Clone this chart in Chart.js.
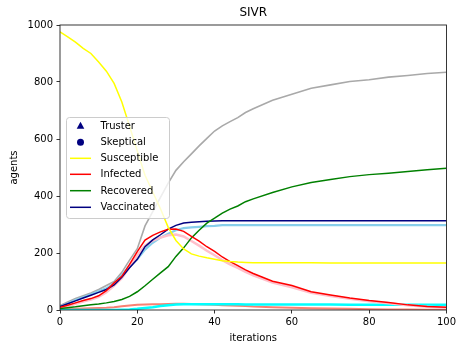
<!DOCTYPE html>
<html>
<head>
<meta charset="utf-8">
<script src="https://cdn.jsdelivr.net/npm/chart.js@4"></script>
<style>
html,body{margin:0;padding:0;background:#fff;}
#wrap{position:relative;width:459px;height:345px;}
</style>
</head>
<body>
<div id="wrap"><canvas id="c" width="459" height="345"></canvas></div>
<script>
const iterations = [0,2,4,6,8,10,12,14,16,18,20,22,24,26,28,30,32,34,36,38,40,42,44,46,48,50,55,60,65,70,75,80,85,90,95,100];
const susceptible = [976,958,940,918,900,870,838,795,730,645,558,473,414,355,290,244,214,197,189,183,178,173,170,168,167,166,166,166,166,165,165,165,165,165,165,165];
const infected = [10,17,25,33,40,50,68,95,118,160,205,245,262,274,283,284,276,258,242,222,206,186,170,156,141,128,101,86,64,53,42,33,26,18,12,10];
const recovered = [5,8,11,15,18,21,25,30,37,48,64,85,108,130,152,188,218,253,280,305,322,340,354,365,380,390,412,432,447,458,468,475,480,486,492,497];
const vaccinated = [12,22,32,42,52,62,72,88,115,148,178,222,246,264,284,297,305,308,310,311,312,313,313,313,313,313,313,313,313,313,313,313,313,313,313,313];
const grayLine = [15,28,40,50,60,72,86,100,132,175,215,295,345,395,445,490,520,548,576,602,628,646,661,675,693,706,736,757,778,790,802,808,817,823,830,834];
const lightBlueLine = [12,23,35,45,55,66,76,93,122,154,178,212,236,254,268,280,287,290,292,294,295,298,298,298,298,298,298,298,298,298,298,298,298,298,298,298];
const pinkLine = [8,14,22,30,37,46,62,86,112,152,192,226,244,254,262,265,258,242,226,208,192,175,160,148,134,122,96,80,60,49,39,31,24,17,11,8];
const cyanLine = [0,0,0,0,0,0,0,0,1,2,4,7,10,14,17,19,20,20,20,20,20,20,20,20,19,19,19,19,19,19,18,18,18,18,18,18];
const salmonLine = [2,3,4,5,6,7,8,10,13,16,18,19,20,20,21,22,22,21,20,19,18,17,16,15,14,12,10,8,6,5,4,3,2,2,1,1];
const xTicks = [0,20,40,60,80,100];
const yTicks = [0,200,400,600,800,1000];
const legendLabels = ["Truster","Skeptical","Susceptible","Infected","Recovered","Vaccinated"];

const FONT = "DejaVu Sans";
function pts(arr){ return iterations.map((x,i)=>({x:x,y:arr[i]})); }
function ds(arr,color,width,order){
  return {data:pts(arr),borderColor:color,borderWidth:width,pointRadius:0,tension:0,fill:false,order:order};
}

const framePlugin = {
  id:'frame',
  afterDraw(chart){
    const ctx = chart.ctx, a = chart.chartArea;
    ctx.save();
    ctx.strokeStyle = '#222'; ctx.lineWidth = 0.9;
    ctx.strokeRect(a.left, a.top, a.right-a.left, a.bottom-a.top);
    ctx.fillStyle = '#000';
    ctx.textAlign = 'center'; ctx.textBaseline = 'middle';
    ctx.font = '12px "' + FONT + '"';
    ctx.fillText('SIVR', (a.left+a.right)/2, 13);
    ctx.font = '10px "' + FONT + '"';
    ctx.fillText('iterations', (a.left+a.right)/2, 338);
    ctx.save();
    ctx.translate(14, (a.top+a.bottom)/2);
    ctx.rotate(-Math.PI/2);
    ctx.fillText('agents', 0, 0);
    ctx.restore();
    // legend
    const bx = 66, by = 117, bw = 103, bh = 101;
    ctx.fillStyle = 'rgba(255,255,255,0.8)';
    ctx.strokeStyle = '#cccccc'; ctx.lineWidth = 1;
    ctx.beginPath();
    ctx.roundRect(bx+0.5, by+0.5, bw, bh, 3);
    ctx.fill(); ctx.stroke();
    const rows = [125.7,142.3,158.3,174.3,190.7,207.3];
    const hx0 = 70, hx1 = 91, mx = 80.5, tx = 100.5;
    ctx.textAlign = 'left'; ctx.textBaseline = 'middle';
    ctx.font = '10px "' + FONT + '"';
    ctx.fillStyle = '#000080';
    ctx.beginPath();
    ctx.moveTo(mx, rows[0]-4); ctx.lineTo(mx+3.8, rows[0]+3); ctx.lineTo(mx-3.8, rows[0]+3); ctx.closePath(); ctx.fill();
    ctx.beginPath(); ctx.arc(mx, rows[1], 3.5, 0, Math.PI*2); ctx.fill();
    const lc = ['#ffff00','#ff0000','#008000','#000080'];
    for(let i=0;i<4;i++){
      ctx.strokeStyle = lc[i]; ctx.lineWidth = 1.5;
      ctx.beginPath(); ctx.moveTo(hx0, rows[i+2]); ctx.lineTo(hx1, rows[i+2]); ctx.stroke();
    }
    ctx.fillStyle = '#000';
    for(let i=0;i<legendLabels.length;i++){
      ctx.fillText(legendLabels[i], tx, rows[i]+0.5);
    }
    ctx.restore();
  }
};

new Chart(document.getElementById('c'), {
  type:'line',
  data:{
    datasets:[
      ds(susceptible,'#ffff00',1.5,1),
      ds(infected,'#ff0000',1.5,2),
      ds(recovered,'#008000',1.5,3),
      ds(vaccinated,'#000080',1.5,4),
      ds(pinkLine,'#ffc0cb',2.5,5),
      ds(lightBlueLine,'#87ceeb',2.2,6),
      ds(grayLine,'#a9a9a9',1.6,7),
      ds(cyanLine,'#00ffff',2.5,8),
      ds(salmonLine,'#fa8072',2,9)
    ]
  },
  options:{
    responsive:false,
    animation:false,
    devicePixelRatio:1,
    layout:{padding:{left:0,right:11,top:25,bottom:0}},
    plugins:{legend:{display:false},title:{display:false},tooltip:{enabled:false}},
    scales:{
      x:{
        type:'linear',min:0,max:100,
        afterBuildTicks(s){ s.ticks = xTicks.map(v=>({value:v})); },
        afterFit(s){ s.height = 35; },
        grid:{display:true,drawOnChartArea:false,drawTicks:true,tickLength:3.5,tickColor:'#000',tickWidth:0.8},
        border:{display:false},
        ticks:{padding:3,color:'#000',font:{family:FONT,size:10},maxRotation:0,autoSkip:false,callback:v=>String(v)}
      },
      y:{
        min:0,max:1000,
        afterBuildTicks(s){ s.ticks = yTicks.map(v=>({value:v})); },
        afterFit(s){ s.width = 60; },
        grid:{display:true,drawOnChartArea:false,drawTicks:true,tickLength:3.5,tickColor:'#000',tickWidth:0.8},
        border:{display:false},
        ticks:{padding:3.5,color:'#000',font:{family:FONT,size:10},autoSkip:false,callback:v=>String(v)}
      }
    }
  },
  plugins:[framePlugin]
});
</script>
</body>
</html>
